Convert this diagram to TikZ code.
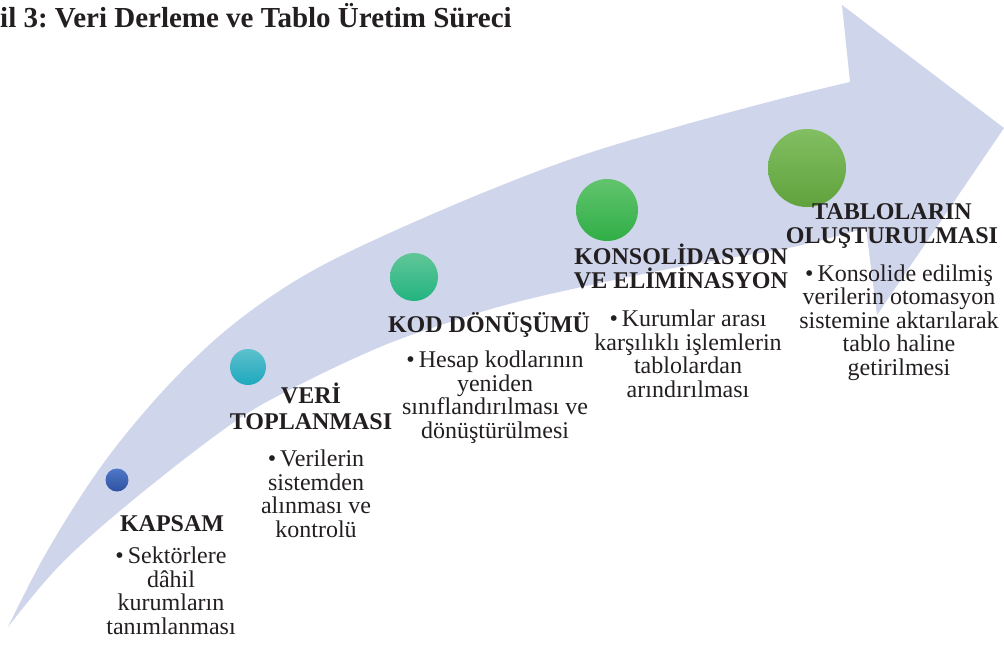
\documentclass[tikz,border=0pt]{standalone}
\usepackage{fontspec}
\setmainfont{Liberation Serif}

\definecolor{arrowbody}{RGB}{207,213,234}
\definecolor{textdark}{RGB}{35,31,32}
\definecolor{dotatop}{RGB}{80,120,200}
\definecolor{dotabot}{RGB}{46,82,162}
\definecolor{dotbtop}{RGB}{92,192,204}
\definecolor{dotbbot}{RGB}{30,168,190}
\definecolor{dotctop}{RGB}{98,198,152}
\definecolor{dotcbot}{RGB}{34,180,128}
\definecolor{dotdtop}{RGB}{98,196,110}
\definecolor{dotdbot}{RGB}{48,174,70}
\definecolor{dotetop}{RGB}{130,190,98}
\definecolor{dotebot}{RGB}{96,162,60}

\begin{document}
\frenchspacing
\begin{tikzpicture}[x=1pt,y=-1pt,
  head/.style={font=\bfseries\fontsize{24}{24}\selectfont,align=center,inner sep=0pt,anchor=base,text=textdark},
  bodytext/.style={font=\fontsize{24}{23.5}\selectfont,align=center,inner sep=0pt,anchor=base,text=textdark},
  stepdot/.style={circle,inner sep=0pt,minimum size=#1}]
\useasboundingbox (0,0) rectangle (1004,646);

\fill[arrowbody] plot[smooth,tension=0.6] coordinates {(8,627) (45,555) (93,478) (140,417) (190,363) (240,319) (300,278) (370,242) (480,194) (580,156) (680,126) (780,99) (850,82)}
  -- (842,5) -- (1004,128) -- (877,315)
  -- plot[smooth,tension=0.6] coordinates {(866,228) (793,247) (700,263) (600,283) (513,303) (450,322) (380,347) (293,388) (230,425) (133,500) (60,565) (8,627)}
  -- cycle;

\node[anchor=base west,inner sep=0pt,text=textdark,font=\bfseries\fontsize{29}{30}\selectfont] (title) at (0,27) {il 3: Veri Derleme ve Tablo Üretim Süreci};

\node[stepdot=23,top color=dotatop,bottom color=dotabot] (dot1) at (117,480) {};
\node[stepdot=36,top color=dotbtop,bottom color=dotbbot] (dot2) at (248,367) {};
\node[stepdot=48,top color=dotctop,bottom color=dotcbot] (dot3) at (414,277) {};
\node[stepdot=62,top color=dotdtop,bottom color=dotdbot] (dot4) at (607,210) {};
\node[stepdot=78,top color=dotetop,bottom color=dotebot] (dot5) at (807,168) {};

\node[head] (kapsam) at (172,531) {KAPSAM};
\node[bodytext] (kapsamtxt) at (171,634) {•\,Sektörlere\\dâhil\\kurumların\\tanımlanması};

\node[head] (veri) at (311,429) {VERİ\\[2pt]TOPLANMASI};
\node[bodytext] (veritxt) at (316,537) {•\,Verilerin\\sistemden\\alınması ve\\kontrolü};

\node[head] (kod) at (489,332) {KOD DÖNÜŞÜMÜ};
\node[bodytext] (kodtxt) at (495,438) {•\,Hesap kodlarının\\yeniden\\sınıflandırılması ve\\dönüştürülmesi};

\node[head] (kons) at (681,288) {KONSOLİDASYON\\VE ELİMİNASYON};
\node[bodytext] (konstxt) at (688,397) {•\,Kurumlar arası\\karşılıklı işlemlerin\\tablolardan\\arındırılması};

\node[head] (tablo) at (892,243) {TABLOLARIN\\OLUŞTURULMASI};
\node[bodytext] (tablotxt) at (899,375) {•\,Konsolide edilmiş\\verilerin otomasyon\\sistemine aktarılarak\\tablo haline\\getirilmesi};
\end{tikzpicture}
\end{document}
